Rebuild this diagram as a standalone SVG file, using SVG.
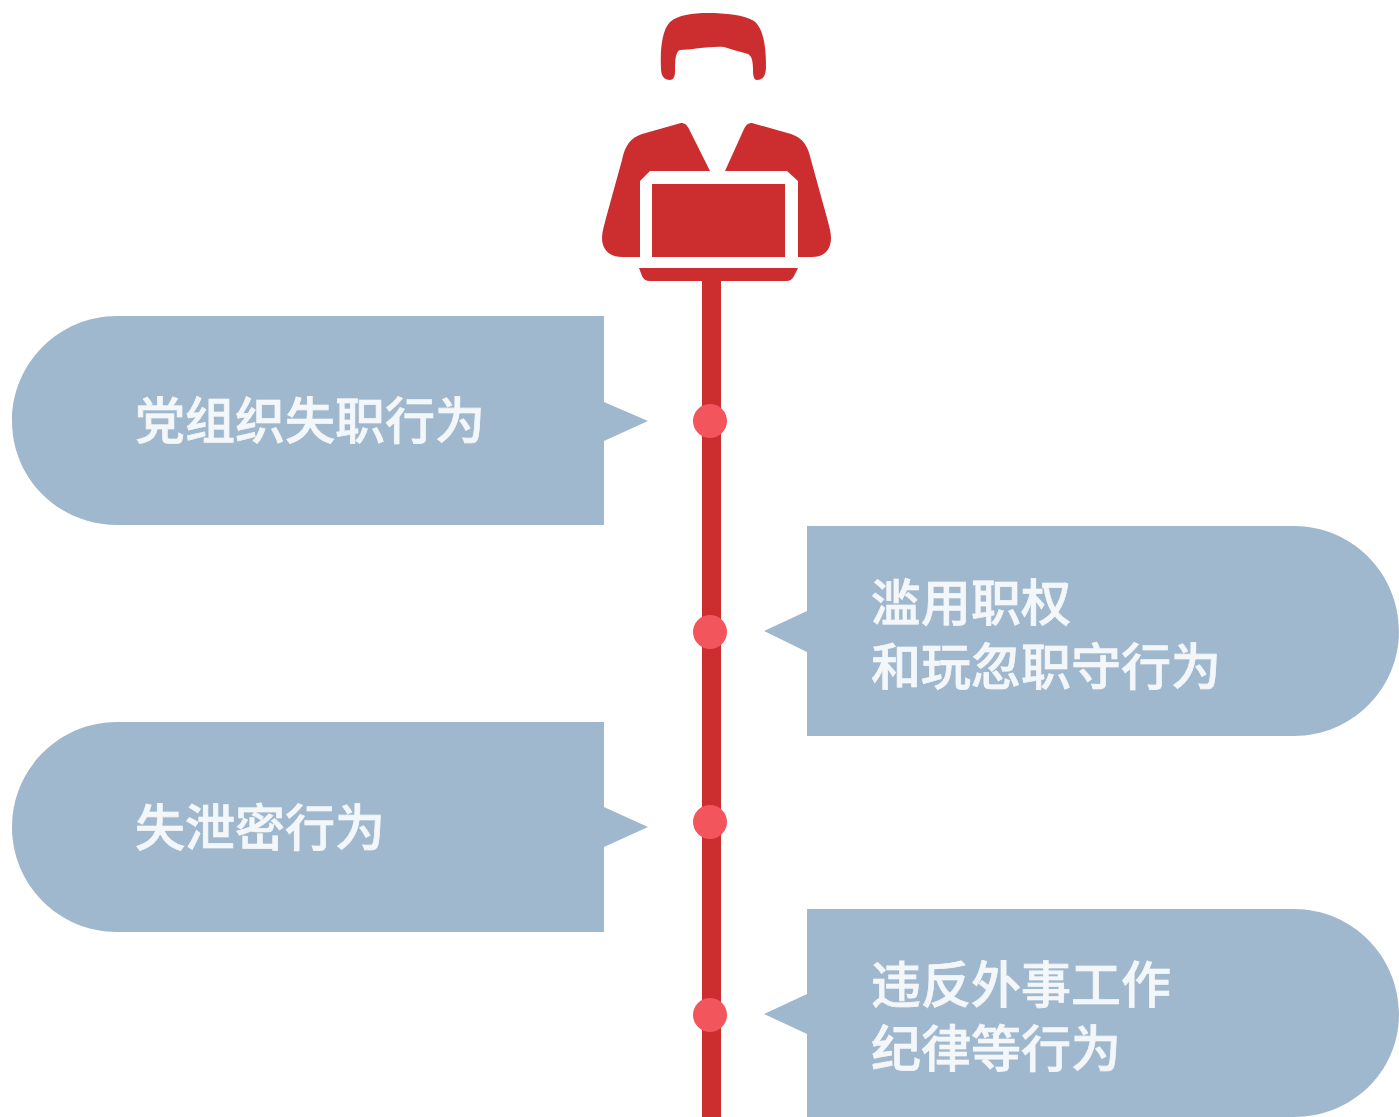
<svg xmlns="http://www.w3.org/2000/svg" width="1399" height="1117" viewBox="0 0 1399 1117">
<style>
.box{fill:#a0b8cd}
.t{fill:#f4f7fa;stroke:#f4f7fa;stroke-width:.7px;font-family:"Liberation Sans","Noto Sans CJK SC",sans-serif;font-size:50px;font-weight:500}
.red{fill:#cc2e30}
.dot{fill:#f2555c}
</style>
<rect width="1399" height="1117" fill="#fff"/>
<g id="connectors">
<rect class="red" x="702" y="270" width="19" height="847"/>
<circle class="dot" cx="710" cy="421" r="17"/>
<circle class="dot" cx="710" cy="632" r="17"/>
<circle class="dot" cx="710" cy="822" r="17"/>
<circle class="dot" cx="710" cy="1015" r="17"/>
</g>
<g id="person">
<path class="red" d="M670 80C664 80 661 76 661 68C660 50 662 30 670 22C678 15 692 13 708 13C725 13 745 15 754 21C763 28 766 45 766 66C766 76 763 80 757 80C754 80 753 76 753 70C753 62 752 56 748 54C738 51 730 49 724 47C710 46 690 50 680 50C675 52 675 62 675 72C675 77 673 80 670 80Z"/>
<path class="red" d="M681 123C685 123 687 125 689 129L710 171H650L640 181V257H622C608 257 602 248 602 238C602 232 604 226 606 218L622 160C625 146 630 138 642 134Z"/>
<path class="red" d="M752 123C748 123 746 125 744 129L725 171H787L798 181V257H812C826 257 831 248 831 238C831 232 829 226 827 218L811 160C808 146 803 138 791 134Z"/>
<rect class="red" x="652" y="184" width="133" height="73"/>
<path class="red" d="M639 268H798L794 276Q792 281 786 281H650Q644 281 642 276Z"/>
</g>
<g id="node1">
<path class="box" d="M604 316H117C59 316 12 363 12 421S59 525 117 525H604V441L648 421L604 402Z"/>
<text class="t" x="135" y="439" textLength="350" lengthAdjust="spacingAndGlyphs">党组织失职行为</text>
</g>
<g id="node2">
<path class="box" d="M807 526H1294C1352 526 1399 573 1399 631S1352 736 1294 736H807V652L764 631L807 611Z"/>
<text class="t" x="871" y="621" textLength="200" lengthAdjust="spacingAndGlyphs">滥用职权</text>
<text class="t" x="871" y="685" textLength="350" lengthAdjust="spacingAndGlyphs">和玩忽职守行为</text>
</g>
<g id="node3">
<path class="box" d="M604 722H117C59 722 12 769 12 827S59 932 117 932H604V847L648 827L604 807Z"/>
<text class="t" x="135" y="846" textLength="250" lengthAdjust="spacingAndGlyphs">失泄密行为</text>
</g>
<g id="node4">
<path class="box" d="M807 909H1294C1352 909 1399 956 1399 1014S1352 1117 1294 1117H807V1034L764 1014L807 994Z"/>
<text class="t" x="871" y="1003" textLength="300" lengthAdjust="spacingAndGlyphs">违反外事工作</text>
<text class="t" x="871" y="1067" textLength="250" lengthAdjust="spacingAndGlyphs">纪律等行为</text>
</g>
</svg>
